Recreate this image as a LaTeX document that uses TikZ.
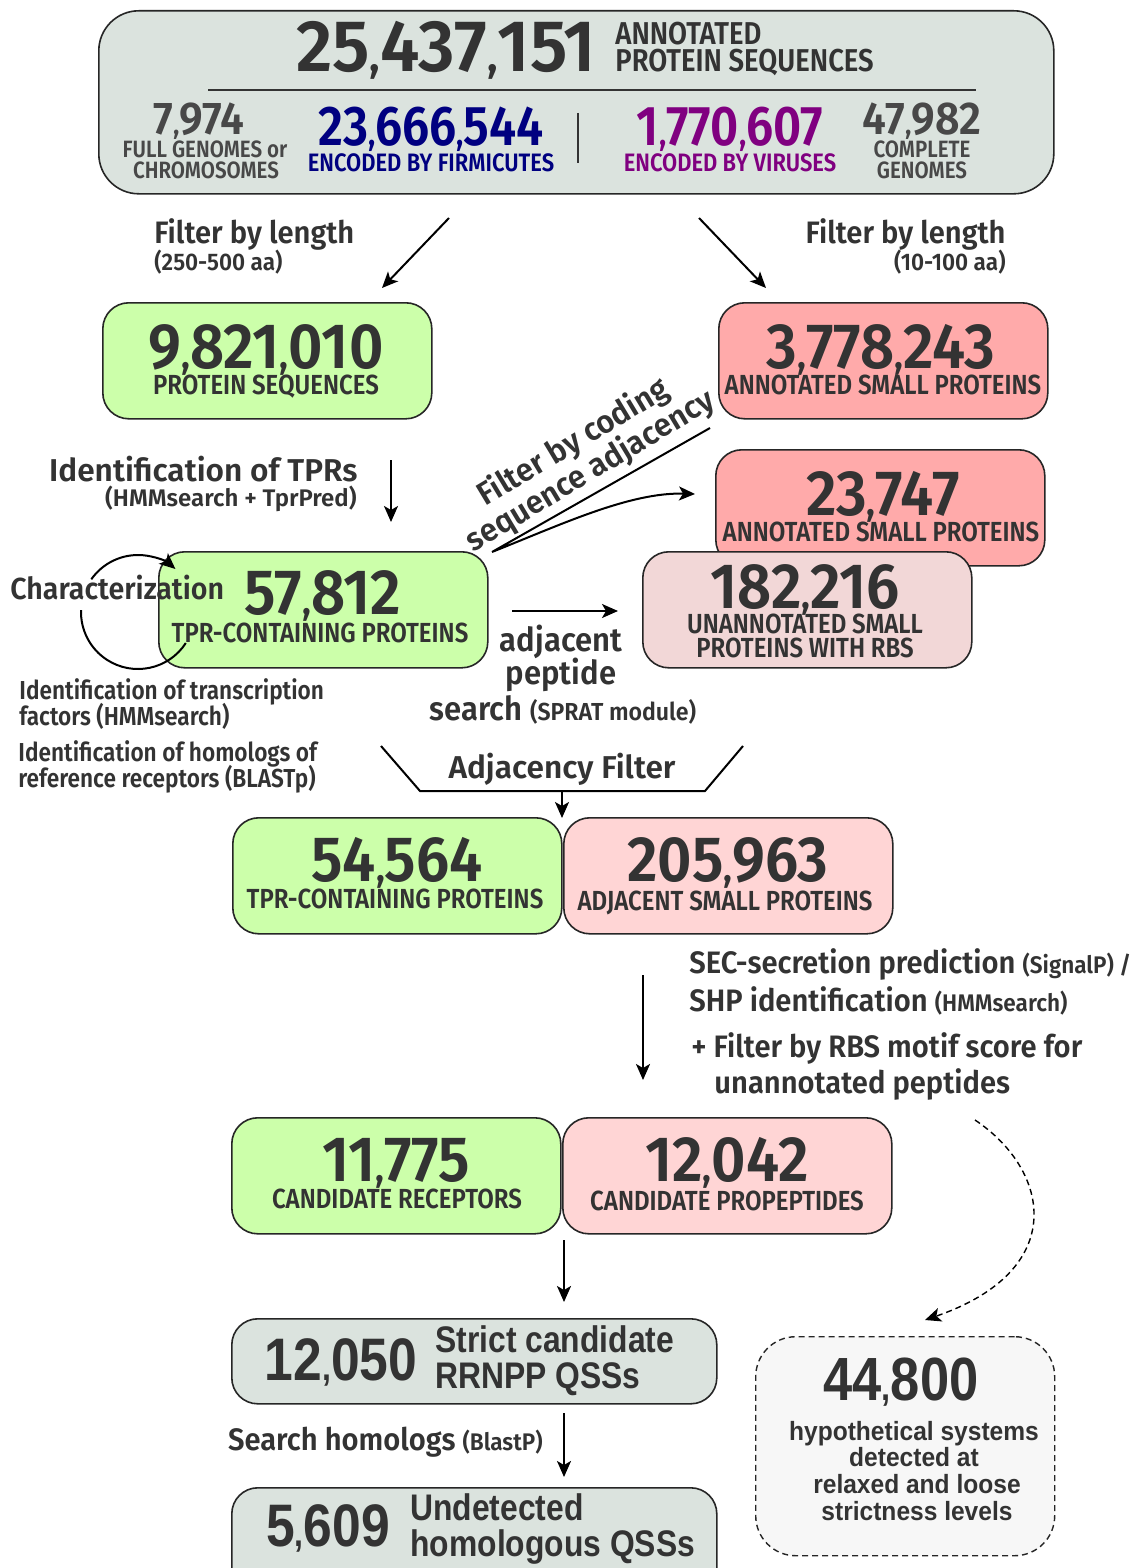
\documentclass[tikz,border=0pt]{standalone}
\usepackage{fontspec}
\usepackage{graphicx}
\setmainfont{Fira Sans}[BoldFont={Fira Sans SemiBold}]
\newfontfamily\cond{Fira Sans}[FakeStretch=0.87, BoldFont={Fira Sans SemiBold}]
\newfontfamily\numf{Fira Sans}[FakeStretch=0.93, BoldFont={Fira Sans SemiBold}]
\newfontfamily\numw{Fira Sans}[FakeStretch=0.97, BoldFont={Fira Sans SemiBold}]
\newfontfamily\condb{Fira Sans}[FakeStretch=0.94, BoldFont={Fira Sans SemiBold}]
\newfontfamily\condc{Fira Sans}[FakeStretch=0.97, BoldFont={Fira Sans SemiBold}]
\newfontfamily\arialn{Liberation Sans}[FakeStretch=0.86]
\newfontfamily\arialb{Liberation Sans}[FakeStretch=0.93]
\usetikzlibrary{arrows.meta,calc}
\definecolor{txt}{RGB}{51,51,51}
\definecolor{txtb}{RGB}{72,72,72}
\definecolor{boxgray}{RGB}{219,227,222}
\definecolor{boxgreen}{RGB}{204,255,170}
\definecolor{boxred}{RGB}{255,170,170}
\definecolor{boxpink}{RGB}{255,213,213}
\definecolor{boxpale}{RGB}{242,215,215}
\definecolor{boxlight}{RGB}{247,247,247}
\definecolor{navyc}{RGB}{0,0,128}
\definecolor{purp}{RGB}{128,0,128}
\newcommand\cma{\scalebox{0.62}{,}}
\tikzset{
  box/.style={draw=black!85, line width=0.8pt, rounded corners=13pt, anchor=north west, inner sep=0, minimum width=164.5pt, minimum height=58pt},
  num/.style={anchor=base, inner sep=0, text=txt, font=\numf\bfseries\fontsize{32}{36}\selectfont},
  lab/.style={anchor=base, inner sep=0, text=txt, font=\cond\bfseries\fontsize{13.8}{16}\selectfont},
  head/.style={inner sep=0, text=txt, font=\condb\bfseries\fontsize{15.5}{18}\selectfont},
  sub/.style={inner sep=0, text=txt, font=\condb\bfseries\fontsize{12}{13}\selectfont},
  arr/.style={-{Stealth[length=8pt,width=7pt,inset=2pt]}, line width=1pt, black},
}
\begin{document}
\begin{tikzpicture}[x=0.5pt,y=-0.5pt]
\useasboundingbox (0,0) rectangle (1137,1568);
\clip (0,0) rectangle (1137,1568);
\fill[white] (0,0) rectangle (1137,1568);

% ---------- top box
\node[box, fill=boxgray, rounded corners=20pt, minimum width=477.5pt, minimum height=91.5pt] (top) at (98,10) {};
\node[num, font=\numw\bfseries\fontsize{36.5}{40}\selectfont] (tn) at (446,72) {25\cma437\cma151};
\node[lab, anchor=base west, font=\cond\bfseries\fontsize{15.8}{18}\selectfont] (tl1) at (615,45) {ANNOTATED};
\node[lab, anchor=base west, font=\cond\bfseries\fontsize{15.8}{18}\selectfont] (tl2) at (615,72) {PROTEIN SEQUENCES};
\coordinate (hl1) at (208,90); \coordinate (hl2) at (976,90);
\draw[line width=1pt, txt] (hl1) -- (hl2);
\coordinate (vl1) at (578,113); \coordinate (vl2) at (578,163);
\draw[line width=1pt, txt] (vl1) -- (vl2);
\node[num, text=txtb, font=\numf\bfseries\fontsize{23}{26}\selectfont] (n7974) at (199,134) {7\cma974};
\node[lab, text=txtb, font=\cond\bfseries\fontsize{11.8}{14}\selectfont] (l7974a) at (205,157) {FULL GENOMES or};
\node[lab, text=txtb, font=\cond\bfseries\fontsize{11.8}{14}\selectfont] (l7974b) at (206,178) {CHROMOSOMES};
\node[num, text=navyc, font=\cond\bfseries\fontsize{28}{32}\selectfont] (nfirm) at (431,146) {23\cma666\cma544};
\node[lab, text=navyc, font=\cond\bfseries\fontsize{12.6}{14}\selectfont] (lfirm) at (431,171) {ENCODED BY FIRMICUTES};
\node[num, text=purp, font=\cond\bfseries\fontsize{28}{32}\selectfont] (nvir) at (730,146) {1\cma770\cma607};
\node[lab, text=purp, font=\cond\bfseries\fontsize{12.6}{14}\selectfont] (lvir) at (730,171) {ENCODED BY VIRUSES};
\node[num, text=txtb, font=\numf\bfseries\fontsize{23}{26}\selectfont] (n47) at (922,134) {47\cma982};
\node[lab, text=txtb, font=\cond\bfseries\fontsize{11.8}{14}\selectfont] (l47a) at (922,157) {COMPLETE};
\node[lab, text=txtb, font=\cond\bfseries\fontsize{11.8}{14}\selectfont] (l47b) at (922,178) {GENOMES};

% ---------- filter by length
\coordinate (a1s) at (449,218); \coordinate (a1e) at (382,288);
\coordinate (a2s) at (699,218); \coordinate (a2e) at (766,288);
\draw[arr] (a1s) -- (a1e);
\draw[arr] (a2s) -- (a2e);
\node[head, anchor=base west] (fl1) at (154,243) {Filter by length};
\node[sub, anchor=base west] (fl1s) at (154,270) {(250-500 aa)};
\node[head, anchor=base east] (fl2) at (1006,243) {Filter by length};
\node[sub, anchor=base east] (fl2s) at (1006,270) {(10-100 aa)};

% ---------- second row
\node[box, fill=boxgreen] (b1) at (102,302) {};
\node[num] (b1n) at (266,368) {9\cma821\cma010};
\node[lab] (b1l) at (266,394) {PROTEIN SEQUENCES};
\node[box, fill=boxred] (b2) at (718,302) {};
\node[num] (b2n) at (881,368) {3\cma778\cma243};
\node[lab] (b2l) at (883,394) {ANNOTATED SMALL PROTEINS};

% ---------- TPR identification
\node[head, anchor=base east, font=\bfseries\fontsize{15.8}{18}\selectfont] (tpr) at (358,481) {Identification of TPRs};
\node[sub, anchor=base east, font=\bfseries\fontsize{12}{14}\selectfont] (tprs) at (357,506) {(HMMsearch + TprPred)};
\coordinate (a3s) at (391,460); \coordinate (a3e) at (391,522);
\draw[arr] (a3s) -- (a3e);

% ---------- right column boxes
\node[box, fill=boxred] (b3) at (715,449) {};
\node[num] (b3n) at (883,515) {23\cma747};
\node[lab] (b3l) at (881,541) {ANNOTATED SMALL PROTEINS};
\node[box, fill=boxpale] (b4) at (642,551) {};
\node[num] (b4n) at (805,608) {182\cma216};
\node[lab] (b4l1) at (805,633) {UNANNOTATED SMALL};
\node[lab] (b4l2) at (805,657) {PROTEINS WITH RBS};

% ---------- coding adjacency filter
\node[head, align=center, rotate=31, font=\condc\bfseries\fontsize{16}{16.5}\selectfont] (cad) at (582,457) {Filter by coding\\sequence adjacency};
\coordinate (c1) at (710,428); \coordinate (c2) at (492,552); \coordinate (c3) at (695,494);
\draw[arr, line join=miter] (c1) -- (c2) .. controls (560,525) and (630,492) .. (c3);

% ---------- 57,812 box
\node[box, fill=boxgreen] (b5) at (158,551) {};
\node[num] (b5n) at (323,614) {57\cma812};
\node[lab] (b5l) at (320,642) {TPR-CONTAINING PROTEINS};
\node[head, anchor=base west, font=\condb\bfseries\fontsize{15.2}{18}\selectfont] (char) at (10,599) {Characterization};
\coordinate (cc) at (138,612);
\draw[arr] ($(cc)+(215:57)$) arc[start angle=215, end angle=311, radius=57];
\draw[line width=1pt] ($(cc)+(33:57)$) arc[start angle=33, end angle=182, radius=57];

\coordinate (a4s) at (512,611); \coordinate (a4e) at (618,611);
\draw[arr] (a4s) -- (a4e);
\node[head, anchor=base, font=\condb\bfseries\fontsize{16.5}{18}\selectfont] (adj1) at (561,651) {adjacent};
\node[head, anchor=base, font=\condb\bfseries\fontsize{16.5}{18}\selectfont] (adj2) at (561,684) {peptide};
\node[head, anchor=base, font=\condb\bfseries\fontsize{16.5}{18}\selectfont] (adj3) at (563,720) {search {\condb\fontsize{12.3}{14}\selectfont (SPRAT module)}};

% ---------- left texts
\node[head, anchor=base west, font=\cond\bfseries\fontsize{13}{15}\selectfont] (id1) at (19,699) {Identification of transcription};
\node[head, anchor=base west, font=\cond\bfseries\fontsize{13}{15}\selectfont] (id2) at (19,725) {factors (HMMsearch)};
\node[head, anchor=base west, font=\cond\bfseries\fontsize{13}{15}\selectfont] (id3) at (18,761) {Identification of homologs of};
\node[head, anchor=base west, font=\cond\bfseries\fontsize{13}{15}\selectfont] (id4) at (18,787) {reference receptors (BLASTp)};

% ---------- adjacency filter
\coordinate (f1) at (381,746); \coordinate (f2) at (420,791); \coordinate (f3) at (705,791); \coordinate (f4) at (743,746);
\draw[line width=1pt] (f1) -- (f2) -- (f3) -- (f4);
\node[head, anchor=base, font=\bfseries\fontsize{15.8}{18}\selectfont] (adjf) at (562,778) {Adjacency Filter};
\coordinate (a5s) at (562,791); \coordinate (a5e) at (562,818);
\draw[arr] (a5s) -- (a5e);

\node[box, fill=boxgreen] (b6) at (232,817) {};
\node[num] (b6n) at (397,881) {54\cma564};
\node[lab] (b6l) at (395,908) {TPR-CONTAINING PROTEINS};
\node[box, fill=boxpink] (b7) at (563,817) {};
\node[num] (b7n) at (728,881) {205\cma963};
\node[lab] (b7l) at (725,910) {ADJACENT SMALL PROTEINS};

% ---------- secretion
\coordinate (a6s) at (643,975); \coordinate (a6e) at (643,1080);
\draw[arr] (a6s) -- (a6e);
\node[head, anchor=base west] (sec1) at (689,973) {SEC-secretion prediction {\condb\fontsize{12}{14}\selectfont (SignalP) /}};
\node[head, anchor=base west] (sec2) at (689,1011) {SHP identification {\condb\fontsize{12}{14}\selectfont (HMMsearch)}};
\node[head, anchor=base west] (sec3) at (691,1057) {+ Filter by RBS motif score for};
\node[head, anchor=base west] (sec4) at (714,1093) {unannotated peptides};
\coordinate (d1) at (975,1120); \coordinate (d2) at (925,1320);
\draw[arr, line width=0.7pt, dashed, dash pattern=on 3pt off 2pt] (d1) .. controls (1050,1170) and (1070,1270) .. (d2);

\node[box, fill=boxgreen] (b8) at (231,1117) {};
\node[num] (b8n) at (396,1181) {11\cma775};
\node[lab] (b8l) at (397,1208) {CANDIDATE RECEPTORS};
\node[box, fill=boxpink] (b9) at (562,1117) {};
\node[num] (b9n) at (727,1181) {12\cma042};
\node[lab] (b9l) at (727,1210) {CANDIDATE PROPEPTIDES};

\coordinate (a7s) at (564,1240); \coordinate (a7e) at (564,1302);
\draw[arr] (a7s) -- (a7e);

% ---------- bottom
\node[box, fill=boxgray, minimum width=242.5pt, minimum height=42.5pt] (b10) at (231,1318) {};
\node[num, font=\arialn\bfseries\fontsize{30}{32}\selectfont] (b10n) at (341,1380) {12\cma050};
\node[head, anchor=base west, font=\arialn\bfseries\fontsize{18.5}{20}\selectfont] (b10a) at (435,1352) {Strict candidate};
\node[head, anchor=base west, font=\arialn\bfseries\fontsize{18.5}{20}\selectfont] (b10b) at (435,1388) {RRNPP QSSs};

\node[head, anchor=base east] (sh) at (543,1450) {Search homologs {\condb\fontsize{12}{14}\selectfont (BlastP)}};
\coordinate (a8s) at (564,1413); \coordinate (a8e) at (564,1477);
\draw[arr] (a8s) -- (a8e);

\node[box, fill=boxgray, minimum width=242.5pt, minimum height=55pt] (b11) at (231,1487) {};
\node[num, font=\arialn\bfseries\fontsize{30}{32}\selectfont] (b11n) at (328,1546) {5\cma609};
\node[head, anchor=base west, font=\arialn\bfseries\fontsize{18.5}{20}\selectfont] (b11a) at (410,1520) {Undetected};
\node[head, anchor=base west, font=\arialn\bfseries\fontsize{18.5}{20}\selectfont] (b11b) at (410,1556) {homologous QSSs};

\node[box, fill=boxlight, dashed, dash pattern=on 3pt off 2pt, line width=0.7pt, rounded corners=20pt, minimum width=149.5pt, minimum height=109.5pt] (b12) at (755,1336) {};
\node[num, font=\arialn\bfseries\fontsize{30.5}{32}\selectfont] (b12n) at (901,1400) {44\cma800};
\node[head, anchor=base, font=\arialb\bfseries\fontsize{13.2}{14}\selectfont] (b12a) at (914,1440) {hypothetical systems};
\node[head, anchor=base, font=\arialb\bfseries\fontsize{13.2}{14}\selectfont] (b12b) at (914,1466) {detected at};
\node[head, anchor=base, font=\arialb\bfseries\fontsize{13.2}{14}\selectfont] (b12c) at (917,1493) {relaxed and loose};
\node[head, anchor=base, font=\arialb\bfseries\fontsize{13.2}{14}\selectfont] (b12d) at (917,1520) {strictness levels};
\end{tikzpicture}
\end{document}
